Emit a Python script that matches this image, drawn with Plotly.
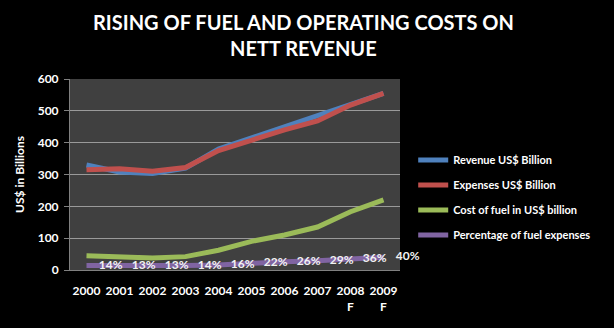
import plotly.graph_objects as go

years = ["2000", "2001", "2002", "2003", "2004", "2005", "2006", "2007", "2008<br>F", "2009<br>F"]
revenue = [330, 308, 303, 320, 380, 415, 453, 485, 520, 555]
expenses = [315, 318, 310, 322, 375, 408, 440, 468, 518, 555]
fuel_cost = [45, 42, 38, 42, 62, 90, 110, 135, 183, 220]
fuel_pct = [14, 13, 13, 14, 16, 22, 26, 29, 36, 40]
pct_labels = [f"<b>{v}%</b>" for v in fuel_pct]
title_lines = ["RISING OF FUEL AND OPERATING COSTS ON", "NETT REVENUE"]

FONT = "Lato"

fig = go.Figure()
fig.add_trace(go.Scatter(x=years, y=revenue, mode="lines", name="<b>Revenue US$ Billion</b>",
                         line=dict(color="#4F81BD", width=5), legendgroup="a"))
fig.add_trace(go.Scatter(x=years, y=expenses, mode="lines", name="<b>Expenses US$ Billion</b>",
                         line=dict(color="#C0504D", width=5), legendgroup="b"))
fig.add_trace(go.Scatter(x=years, y=fuel_cost, mode="lines", name="<b>Cost of fuel in US$ billion</b>",
                         line=dict(color="#9BBB59", width=5), legendgroup="c"))
fig.add_trace(go.Scatter(x=years, y=fuel_pct, mode="lines", name="<b>Percentage of fuel expenses</b>",
                         line=dict(color="#8064A2", width=5), legendgroup="d"))
fig.add_trace(go.Scatter(x=years, y=fuel_pct, mode="markers+text", showlegend=False,
                         marker=dict(size=18, opacity=0, color="#8064A2"),
                         text=pct_labels, textposition="middle right",
                         textfont=dict(family=FONT, size=12, color="#F2F2F2"),
                         hoverinfo="skip", cliponaxis=False))

for line, ypix in zip(title_lines, [22, 48]):
    fig.add_annotation(text=f"<b>{line}</b>", xref="paper", yref="paper",
                       x=(303 - 70) / 330, y=(270 - ypix) / 191,
                       xanchor="center", yanchor="middle", showarrow=False,
                       font=dict(family=FONT, size=20, color="#FFFFFF"))

fig.update_layout(
    width=614, height=328,
    paper_bgcolor="#000000", plot_bgcolor="#404040",
    margin=dict(l=70, r=214, t=79, b=58),
    font=dict(family=FONT, color="#FFFFFF"),
    legend=dict(x=1.04, xanchor="left", y=0.38, yanchor="middle",
                font=dict(family=FONT, size=11, color="#FFFFFF"),
                bgcolor="rgba(0,0,0,0)", tracegroupgap=6, itemwidth=30),
    xaxis=dict(range=[-0.5, 9.5], showgrid=False, showline=True, linecolor="#808080", linewidth=1,
               ticks="", ticklabelstandoff=10, tickfont=dict(family=FONT, size=12, color="#FFFFFF"),
               tickprefix="<b>", ticksuffix="</b>", fixedrange=True),
    yaxis=dict(range=[0, 600], dtick=100, showgrid=True, gridcolor="#9A9A9A", gridwidth=1,
               showline=True, linecolor="#808080", ticks="outside", ticklen=5, tickcolor="#808080",
               zeroline=False, ticklabelstandoff=3,
               tickfont=dict(family=FONT, size=12, color="#FFFFFF"),
               tickprefix="<b>", ticksuffix="</b>",
               title=dict(text="<b>US$ in Billions</b>", font=dict(family=FONT, size=12, color="#FFFFFF"),
                          standoff=10)),
)

fig.write_html("out.html")
